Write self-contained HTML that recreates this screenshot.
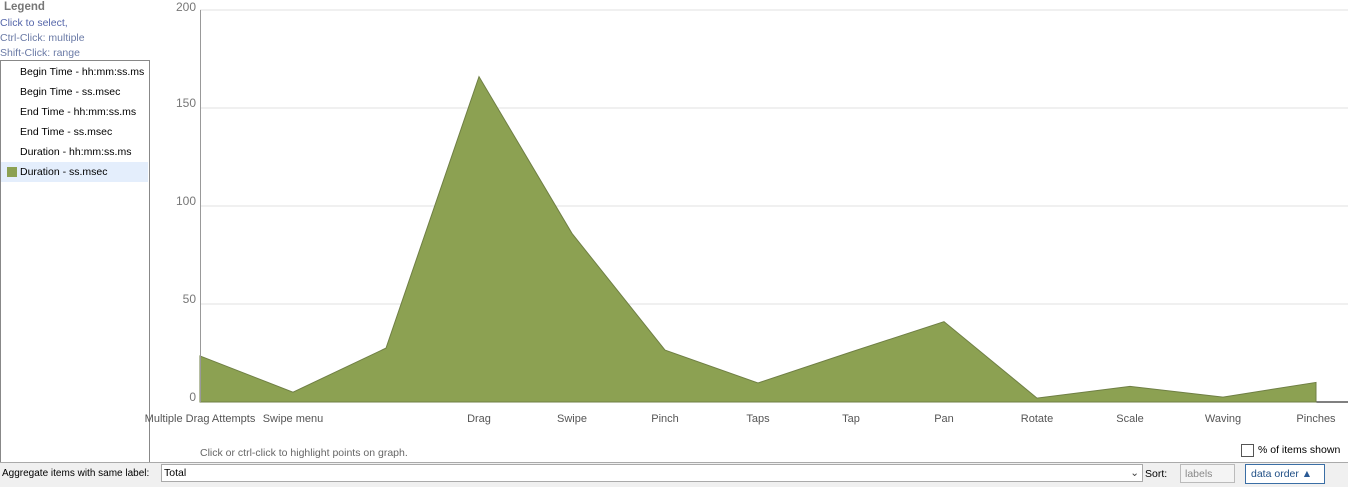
<!DOCTYPE html>
<html><head><meta charset="utf-8"><style>
body{margin:0;width:1348px;height:486px;overflow:hidden;background:#fff;font-family:"Liberation Sans",sans-serif;font-size:10.5px;position:relative}
.abs{position:absolute;white-space:nowrap}
.leg-item{position:absolute;left:1px;width:147px;height:20px;line-height:20px;padding-left:19px;box-sizing:border-box;color:#000;font-size:10.5px;white-space:nowrap;overflow:hidden}
</style></head><body>
<div class="abs" style="left:4px;top:1px;font-weight:bold;color:#777;font-size:11.5px">Legend</div>
<div class="abs" style="left:0;top:16px;color:#6a7aa6;line-height:15px;font-size:10.5px"><span style="color:#5566aa">Click to select,</span><br>Ctrl-Click: multiple<br>Shift-Click: range</div>
<div class="abs" style="left:0;top:60px;width:148px;height:401px;border:1px solid #888">
<div class="leg-item" style="top:1px;left:0">Begin Time - hh:mm:ss.ms</div>
<div class="leg-item" style="top:21px;left:0">Begin Time - ss.msec</div>
<div class="leg-item" style="top:41px;left:0">End Time - hh:mm:ss.ms</div>
<div class="leg-item" style="top:61px;left:0">End Time - ss.msec</div>
<div class="leg-item" style="top:81px;left:0">Duration - hh:mm:ss.ms</div>
<div class="leg-item" style="top:101px;left:0;background:#e4eefc"><span style="position:absolute;left:6px;top:5px;width:10px;height:10px;background:#8ca152"></span>Duration - ss.msec</div>
</div>
<svg class="abs" style="left:0;top:0" width="1348" height="440" id="chart"></svg>
<div class="abs" style="left:200px;top:447px;color:#666">Click or ctrl-click to highlight points on graph.</div>
<div class="abs" style="left:1241px;top:444px;width:11px;height:11px;border:1px solid #555"></div>
<div class="abs" style="left:1258px;top:444px">% of items shown</div>
<div class="abs" style="left:0;top:462px;width:1348px;height:24px;background:#f0f0f0;border-top:1px solid #aaa"></div>
<div class="abs" style="left:2px;top:468px;font-size:10px">Aggregate items with same label:</div>
<div class="abs" style="left:161px;top:464px;width:982px;height:18px;background:#fff;border:1px solid #aaa;line-height:17px;box-sizing:border-box;padding-left:2px">Total<span style="position:absolute;right:3px;top:0;color:#444">⌄</span></div>
<div class="abs" style="left:1145px;top:468px">Sort:</div>
<div class="abs" style="left:1180px;top:464px;width:55px;height:19px;border:1px solid #bbb;color:#888;line-height:19px;padding-left:4px;box-sizing:border-box;background:#f4f4f4">labels</div>
<div class="abs" style="left:1245px;top:464px;width:80px;height:20px;border:1px solid #3a6ea5;color:#1f4e85;line-height:19px;padding-left:5px;box-sizing:border-box;background:#fff">data order <span style="color:#2a5a95">▲</span></div>
<script>
const categories=["Multiple Drag Attempts","Swipe menu","","Drag","Swipe","Pinch","Taps","Tap","Pan","Rotate","Scale","Waving","Pinches"];
const values=[23.5,5,27.5,166,86,26.5,9.7,25.5,41,2,8,2.5,10];
const ticks=[0,50,100,150,200];
const NS="http://www.w3.org/2000/svg";
const svg=document.getElementById('chart');
const x0=200,step=93,yb=402,yt=10,ymax=200;
const X=i=>x0+i*step;
const Y=v=>yb-(v/ymax)*(yb-yt);
function mk(t,a){const e=document.createElementNS(NS,t);for(const k in a)e.setAttribute(k,a[k]);svg.appendChild(e);return e;}
ticks.forEach(t=>{
  const g=mk('line',{x1:x0,x2:1348,y1:Y(t),y2:Y(t),stroke:t?'#e2e2e2':'#000','stroke-width':1});
  
  
  const l=mk('text',{x:196,y:Y(t)+(t==200?1:-1),'text-anchor':'end','font-size':12,fill:'#777','font-family':'Liberation Sans'});
  l.textContent=t;
  
  
});
let d=`M${X(0)},${yb}`;values.forEach((v,i)=>d+=` L${X(i)},${Y(v)}`);d+=` L${X(values.length-1)},${yb} Z`;
const a=mk('path',{d:d,fill:'#8ca152',stroke:'#6f7f44','stroke-width':1});


const ax=mk('line',{x1:x0+0.5,x2:x0+0.5,y1:yt,y2:yb,stroke:'#999'});


categories.forEach((c,i)=>{
  const t=mk('text',{x:X(i),y:422,'text-anchor':'middle','font-size':11,fill:'#555','font-family':'Liberation Sans'});
  t.textContent=c;
  
  
});
</script>
</body></html>
